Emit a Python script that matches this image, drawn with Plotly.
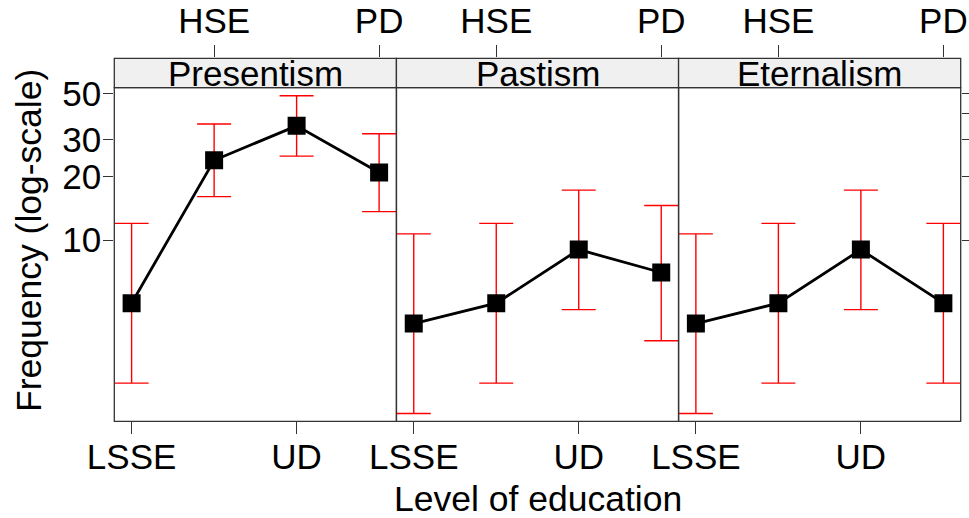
import plotly.graph_objects as go

# Education levels (x positions 1..4)
levels = ["LSSE", "HSE", "UD", "PD"]
bottom_labels = ["LSSE", "UD"]
top_labels = ["HSE", "PD"]
panels = ["Presentism", "Pastism", "Eternalism"]

# Frequencies with upper / lower interval bounds per panel
presentism = [5, 24, 35, 21]
presentism_hi = [12.0, 35.7, 48.7, 32.1]
presentism_lo = [2.08, 16.1, 25.1, 13.65]

pastism = [4, 5, 9, 7]
pastism_hi = [10.7, 12.0, 17.3, 14.6]
pastism_lo = [1.49, 2.08, 4.66, 3.31]

eternalism = [4, 5, 9, 5]
eternalism_hi = [10.7, 12.0, 17.3, 12.0]
eternalism_lo = [1.49, 2.08, 4.66, 2.08]

left_ticks = [10, 20, 30, 50]
right_ticks = [10, 20, 30, 40, 50]

W, H = 969, 518
FONT = "Liberation Sans, Arial, sans-serif"
FS = 35
FS_TITLE = 35.5

# layout geometry (pixels)
px_left, px_right = 114.3, 960.7
py_strip_top, py_panel_top, py_panel_bot = 58.3, 87.7, 421.3
pw = (px_right - px_left) / 3


def fx(px):
    return px / W


def fy(py):
    return 1 - py / H


series = [
    (presentism, presentism_hi, presentism_lo),
    (pastism, pastism_hi, pastism_lo),
    (eternalism, eternalism_hi, eternalism_lo),
]

xnum = [1, 2, 3, 4]
xr = [0.79, 4.21]
yr = [0.136, 1.726]

fig = go.Figure()
for i, (vals, hi, lo) in enumerate(series):
    xa = "x" if i == 0 else f"x{i + 1}"
    fig.add_trace(go.Scatter(
        x=xnum, y=vals, xaxis=xa, yaxis="y",
        mode="lines+markers",
        line=dict(color="black", width=2.8),
        marker=dict(symbol="square", size=18, color="black", line=dict(width=0)),
        error_y=dict(
            type="data", symmetric=False,
            array=[h - v for h, v in zip(hi, vals)],
            arrayminus=[v - l for l, v in zip(lo, vals)],
            color="#ff0000", thickness=1.4, width=17,
        ),
        showlegend=False, hoverinfo="skip",
    ))

# empty traces so the top tick axes and right tick axis are drawn
for i in range(3):
    fig.add_trace(go.Scatter(x=[None], y=[None], xaxis=f"x{i + 4}", yaxis="y2",
                             showlegend=False, hoverinfo="skip"))
fig.add_trace(go.Scatter(x=[None], y=[None], xaxis="x3", yaxis="y3",
                         showlegend=False, hoverinfo="skip"))

tickfont = dict(family=FONT, size=FS, color="black")
layout = dict(
    width=W, height=H,
    margin=dict(l=0, r=0, t=0, b=0, autoexpand=False),
    paper_bgcolor="white", plot_bgcolor="white",
    showlegend=False,
    yaxis=dict(
        type="log", range=yr, anchor="x", automargin=False,
        domain=[fy(py_panel_bot), fy(py_panel_top)],
        tickvals=left_ticks, ticktext=[str(t) for t in left_ticks],
        ticks="outside", ticklen=10, tickwidth=1, tickcolor="#333",
        ticklabelstandoff=-5,
        tickfont=tickfont, showgrid=False, zeroline=False, showline=False,
    ),
    yaxis2=dict(
        domain=[fy(py_panel_top), fy(py_strip_top)], anchor="x4",
        range=[0, 1], visible=False, automargin=False,
    ),
    yaxis3=dict(
        type="log", range=yr, overlaying="y", side="right", anchor="x3",
        tickvals=right_ticks, showticklabels=False, automargin=False,
        ticks="outside", ticklen=10, tickwidth=1, tickcolor="#333",
        showgrid=False, zeroline=False, showline=False,
    ),
)

for i in range(3):
    d = [fx(px_left + i * pw), fx(px_left + (i + 1) * pw)]
    key = "xaxis" if i == 0 else f"xaxis{i + 1}"
    layout[key] = dict(
        domain=d, range=xr, anchor="y", automargin=False,
        tickvals=[1, 3], ticktext=bottom_labels,
        ticks="outside", ticklen=12, tickwidth=1, tickcolor="#333",
        ticklabelstandoff=-7,
        tickfont=tickfont, showgrid=False, zeroline=False, showline=False,
    )
    layout[f"xaxis{i + 4}"] = dict(
        domain=d, range=xr, anchor="y2", side="top", automargin=False,
        tickvals=[2, 4], ticktext=top_labels,
        ticks="outside", ticklen=12, tickwidth=1, tickcolor="#333",
        ticklabelstandoff=-2,
        tickfont=tickfont, showgrid=False, zeroline=False, showline=False,
    )

shapes = []
annotations = []
for i, name in enumerate(panels):
    x0 = fx(px_left + i * pw)
    x1 = fx(px_left + (i + 1) * pw)
    # strip background
    shapes.append(dict(type="rect", xref="paper", yref="paper",
                       x0=x0, x1=x1, y0=fy(py_panel_top), y1=fy(py_strip_top),
                       fillcolor="#f0f0f0", line=dict(color="#333", width=1.3),
                       layer="below"))
    # panel frame
    shapes.append(dict(type="rect", xref="paper", yref="paper",
                       x0=x0, x1=x1, y0=fy(py_panel_bot), y1=fy(py_panel_top),
                       fillcolor="rgba(0,0,0,0)", line=dict(color="#333", width=1.3),
                       layer="above"))
    annotations.append(dict(
        text=name, xref="paper", yref="paper",
        x=(x0 + x1) / 2, y=fy((py_strip_top + py_panel_top) / 2 + 1),
        xanchor="center", yanchor="middle", showarrow=False,
        font=dict(family=FONT, size=FS, color="black"),
    ))

annotations.append(dict(
    text="Level of education", xref="paper", yref="paper",
    x=fx((px_left + px_right) / 2), y=fy(499),
    xanchor="center", yanchor="middle", showarrow=False,
    font=dict(family=FONT, size=FS_TITLE, color="black"),
))
annotations.append(dict(
    text="Frequency (log-scale)", xref="paper", yref="paper",
    x=fx(29), y=fy(241), textangle=-90,
    xanchor="center", yanchor="middle", showarrow=False,
    font=dict(family=FONT, size=FS_TITLE, color="black"),
))

layout["shapes"] = shapes
layout["annotations"] = annotations
fig.update_layout(**layout)

fig.write_html("out.html")
